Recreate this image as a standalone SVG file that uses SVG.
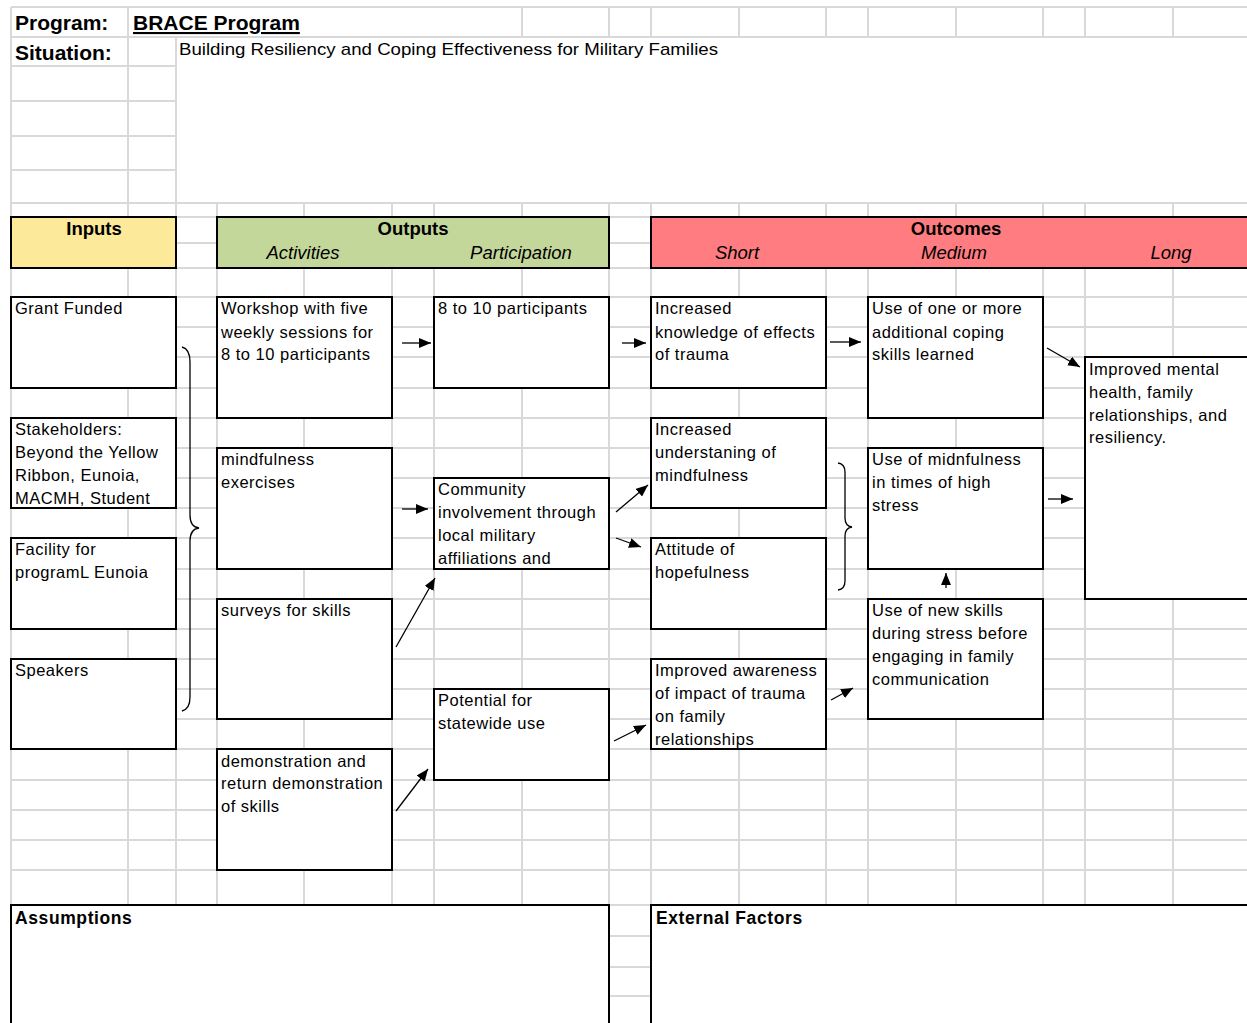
<svg xmlns="http://www.w3.org/2000/svg" width="1247" height="1023" viewBox="0 0 1247 1023">
<defs>
<style>
.g{stroke:#d9d9d9;stroke-width:2;fill:none}
.box{fill:#fff;stroke:#000;stroke-width:2}
.t{font-family:"Liberation Sans",Arial,sans-serif;font-size:16.5px;letter-spacing:0.5px;fill:#000}
.hb{font-family:"Liberation Sans",Arial,sans-serif;font-size:18.5px;font-weight:bold;fill:#000;text-anchor:middle}
.hi{font-family:"Liberation Sans",Arial,sans-serif;font-size:18.5px;font-style:italic;fill:#000;text-anchor:middle}
.tb{font-family:"Liberation Sans",Arial,sans-serif;font-size:21px;font-weight:bold;fill:#000}
.ab{font-family:"Liberation Sans",Arial,sans-serif;font-size:17.5px;font-weight:bold;letter-spacing:0.6px;fill:#000}
.c{stroke:#000;stroke-width:1.3;fill:none}
.a{marker-end:url(#ah)}
</style>
<marker id="ah" markerUnits="userSpaceOnUse" markerWidth="12" markerHeight="10" refX="12" refY="5" orient="auto">
<path d="M0,0 L12,5 L0,10 z" fill="#000"/>
</marker>
</defs>
<rect width="1247" height="1023" fill="#fff"/>
<g id="grid" class="g">
<path d="M11,7H1247M11,37H1247M11,203H1247M11,217H1247M11,243H1247M11,268H1247M11,297H1247M11,327H1247M11,357H1247M11,388H1247M11,418H1247M11,448H1247M11,478H1247M11,508H1247M11,538H1247M11,569H1247M11,599H1247M11,629H1247M11,659H1247M11,689H1247M11,719H1247M11,749H1247M11,780H1247M11,810H1247M11,840H1247M11,870H1247M11,905H1247"/>
<path d="M11,66H176M11,101H176M11,136H176M11,170H176M609,936H651M609,967H651M609,996H651"/>
<path d="M11,7V37M128,7V37M522,7V37M609,7V37M651,7V37M739,7V37M826,7V37M868,7V37M956,7V37M1043,7V37M1085,7V37M1173,7V37"/>
<path d="M11,37V203M128,37V203M176,37V203"/>
<path d="M11,203V905M128,203V905M176,203V905M217,203V905M304,203V905M392,203V905M434,203V905M522,203V905M609,203V905M651,203V905M739,203V905M826,203V905M868,203V905M956,203V905M1043,203V905M1085,203V905M1173,203V905"/>
</g>
<g id="title">
<text class="tb" x="15" y="30">Program:</text>
<text class="tb" x="133" y="30" text-decoration="underline">BRACE Program</text>
<text class="tb" x="15" y="60">Situation:</text>
<text class="t" x="179" y="55" style="font-size:17px;letter-spacing:0" textLength="539" lengthAdjust="spacingAndGlyphs">Building Resiliency and Coping Effectiveness for Military Families</text>
</g>
<g id="hdr-inputs">
<rect x="11" y="217" width="165" height="51" fill="#fde99a" stroke="#000" stroke-width="2"/>
<text class="hb" x="94" y="235">Inputs</text>
</g>
<g id="hdr-outputs">
<rect x="217" y="217" width="392" height="51" fill="#c4d79b" stroke="#000" stroke-width="2"/>
<text class="hb" x="413" y="235">Outputs</text>
<text class="hi" x="303" y="259">Activities</text>
<text class="hi" x="521" y="259">Participation</text>
</g>
<g id="hdr-outcomes">
<rect x="651" y="217" width="610" height="51" fill="#ff7c80" stroke="#000" stroke-width="2"/>
<text class="hb" x="956" y="235">Outcomes</text>
<text class="hi" x="737" y="259">Short</text>
<text class="hi" x="954" y="259">Medium</text>
<text class="hi" x="1171" y="259">Long</text>
</g>
<g id="grant"><rect class="box" x="11" y="297" width="165" height="91"/>
<text class="t" x="15" y="314">Grant Funded</text></g>
<g id="stakeholders"><rect class="box" x="11" y="418" width="165" height="90"/>
<text class="t" x="15" y="435">Stakeholders:</text><text class="t" x="15" y="458">Beyond the Yellow</text><text class="t" x="15" y="481">Ribbon, Eunoia,</text><text class="t" x="15" y="504">MACMH, Student</text></g>
<g id="facility"><rect class="box" x="11" y="538" width="165" height="91"/>
<text class="t" x="15" y="555">Facility for</text><text class="t" x="15" y="578">programL Eunoia</text></g>
<g id="speakers"><rect class="box" x="11" y="659" width="165" height="90"/>
<text class="t" x="15" y="676">Speakers</text></g>
<g id="workshop"><rect class="box" x="217" y="297" width="175" height="121"/>
<text class="t" x="221" y="314">Workshop with five</text><text class="t" x="221" y="338">weekly sessions for</text><text class="t" x="221" y="360">8 to 10 participants</text></g>
<g id="mindfulness"><rect class="box" x="217" y="448" width="175" height="121"/>
<text class="t" x="221" y="465">mindfulness</text><text class="t" x="221" y="488">exercises</text></g>
<g id="surveys"><rect class="box" x="217" y="599" width="175" height="120"/>
<text class="t" x="221" y="616">surveys for skills</text></g>
<g id="demonstration"><rect class="box" x="217" y="749" width="175" height="121"/>
<text class="t" x="221" y="767">demonstration and</text><text class="t" x="221" y="789">return demonstration</text><text class="t" x="221" y="812">of skills</text></g>
<g id="participants"><rect class="box" x="434" y="297" width="175" height="91"/>
<text class="t" x="438" y="314">8 to 10 participants</text></g>
<g id="community"><rect class="box" x="434" y="478" width="175" height="91"/>
<text class="t" x="438" y="495">Community</text><text class="t" x="438" y="518">involvement through</text><text class="t" x="438" y="541">local military</text><text class="t" x="438" y="564">affiliations and</text></g>
<g id="potential"><rect class="box" x="434" y="689" width="175" height="91"/>
<text class="t" x="438" y="706">Potential for</text><text class="t" x="438" y="729">statewide use</text></g>
<g id="knowledge"><rect class="box" x="651" y="297" width="175" height="91"/>
<text class="t" x="655" y="314">Increased</text><text class="t" x="655" y="338">knowledge of effects</text><text class="t" x="655" y="360">of trauma</text></g>
<g id="understanding"><rect class="box" x="651" y="418" width="175" height="90"/>
<text class="t" x="655" y="435">Increased</text><text class="t" x="655" y="458">understaning of</text><text class="t" x="655" y="481">mindfulness</text></g>
<g id="hopefulness"><rect class="box" x="651" y="538" width="175" height="91"/>
<text class="t" x="655" y="555">Attitude of</text><text class="t" x="655" y="578">hopefulness</text></g>
<g id="awareness"><rect class="box" x="651" y="659" width="175" height="90"/>
<text class="t" x="655" y="676">Improved awareness</text><text class="t" x="655" y="699">of impact of trauma</text><text class="t" x="655" y="722">on family</text><text class="t" x="655" y="745">relationships</text></g>
<g id="coping"><rect class="box" x="868" y="297" width="175" height="121"/>
<text class="t" x="872" y="314">Use of one or more</text><text class="t" x="872" y="338">additional coping</text><text class="t" x="872" y="360">skills learned</text></g>
<g id="midnfulness"><rect class="box" x="868" y="448" width="175" height="121"/>
<text class="t" x="872" y="465">Use of midnfulness</text><text class="t" x="872" y="488">in times of high</text><text class="t" x="872" y="511">stress</text></g>
<g id="newskills"><rect class="box" x="868" y="599" width="175" height="120"/>
<text class="t" x="872" y="616">Use of new skills</text><text class="t" x="872" y="639">during stress before</text><text class="t" x="872" y="662">engaging in family</text><text class="t" x="872" y="685">communication</text></g>
<g id="improved"><rect class="box" x="1085" y="357" width="200" height="242"/>
<text class="t" x="1089" y="375">Improved mental</text><text class="t" x="1089" y="398">health, family</text><text class="t" x="1089" y="421">relationships, and</text><text class="t" x="1089" y="443">resiliency.</text></g>
<g id="assumptions"><rect class="box" x="11" y="905" width="598" height="140"/>
<text class="ab" x="15" y="924">Assumptions</text></g>
<g id="external"><rect class="box" x="651" y="905" width="610" height="140"/>
<text class="ab" x="656" y="924">External Factors</text></g>
<g id="connectors">
<path class="c" d="M182,347 Q190,349 190,362 L190,515 Q190,527 199,528 Q190,529 190,541 L190,697 Q190,709 182,711"/>
<path class="c" d="M838,463 Q845,464 845,472 L845,518 Q845,526 852,527 Q845,528 845,536 L845,581 Q845,589 838,590"/>
<line class="c a" x1="402" y1="343" x2="431" y2="343"/>
<line class="c a" x1="622" y1="343" x2="646" y2="343"/>
<line class="c a" x1="830" y1="342" x2="861" y2="342"/>
<line class="c a" x1="1047" y1="348" x2="1080" y2="367"/>
<line class="c a" x1="402" y1="509" x2="428" y2="509"/>
<line class="c a" x1="616" y1="512" x2="648" y2="485"/>
<line class="c a" x1="616" y1="538" x2="641" y2="547"/>
<line class="c a" x1="396" y1="647" x2="435" y2="578"/>
<line class="c a" x1="396" y1="811" x2="428" y2="769"/>
<line class="c a" x1="614" y1="741" x2="646" y2="725"/>
<line class="c a" x1="831" y1="700" x2="853" y2="688"/>
<line class="c a" x1="946" y1="588" x2="946" y2="573"/>
<line class="c a" x1="1048" y1="499" x2="1073" y2="499"/>
</g>
</svg>
